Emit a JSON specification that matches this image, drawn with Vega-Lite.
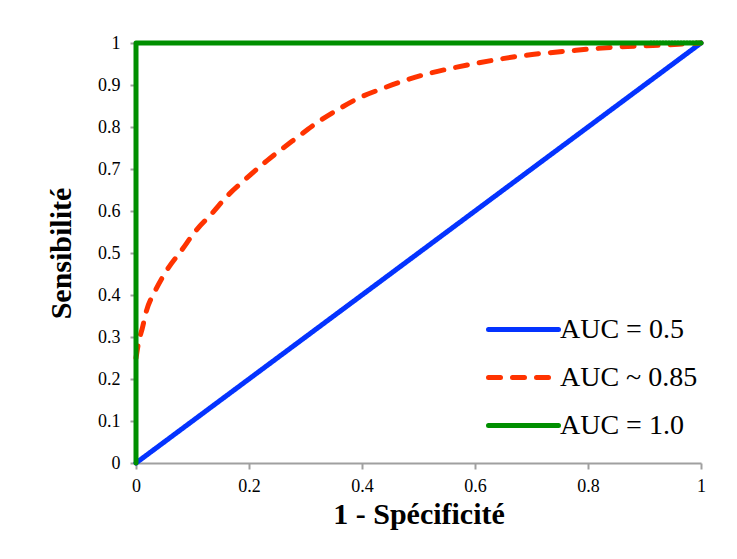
{
  "$schema": "https://vega.github.io/schema/vega-lite/v6.json",
  "width": 565,
  "height": 420,
  "autosize": {"type": "none"},
  "padding": {"left": 136, "top": 43, "right": 36, "bottom": 96},
  "background": "white",
  "config": {
    "view": {"stroke": null},
    "font": "Liberation Serif"
  },
  "data": {
    "values": [
      {"serie": "AUC = 0.5", "fpr": 0, "tpr": 0},
      {"serie": "AUC = 0.5", "fpr": 1, "tpr": 1},
      {"serie": "AUC ~ 0.85", "fpr": 0, "tpr": 0.25},
      {"serie": "AUC ~ 0.85", "fpr": 0.005, "tpr": 0.29},
      {"serie": "AUC ~ 0.85", "fpr": 0.011, "tpr": 0.32},
      {"serie": "AUC ~ 0.85", "fpr": 0.018, "tpr": 0.36},
      {"serie": "AUC ~ 0.85", "fpr": 0.034, "tpr": 0.41},
      {"serie": "AUC ~ 0.85", "fpr": 0.055, "tpr": 0.46},
      {"serie": "AUC ~ 0.85", "fpr": 0.081, "tpr": 0.507},
      {"serie": "AUC ~ 0.85", "fpr": 0.104, "tpr": 0.55},
      {"serie": "AUC ~ 0.85", "fpr": 0.135, "tpr": 0.595},
      {"serie": "AUC ~ 0.85", "fpr": 0.161, "tpr": 0.635},
      {"serie": "AUC ~ 0.85", "fpr": 0.189, "tpr": 0.67},
      {"serie": "AUC ~ 0.85", "fpr": 0.232, "tpr": 0.72},
      {"serie": "AUC ~ 0.85", "fpr": 0.285, "tpr": 0.775},
      {"serie": "AUC ~ 0.85", "fpr": 0.32, "tpr": 0.81},
      {"serie": "AUC ~ 0.85", "fpr": 0.358, "tpr": 0.842},
      {"serie": "AUC ~ 0.85", "fpr": 0.396, "tpr": 0.87},
      {"serie": "AUC ~ 0.85", "fpr": 0.437, "tpr": 0.892},
      {"serie": "AUC ~ 0.85", "fpr": 0.476, "tpr": 0.911},
      {"serie": "AUC ~ 0.85", "fpr": 0.517, "tpr": 0.927},
      {"serie": "AUC ~ 0.85", "fpr": 0.559, "tpr": 0.94},
      {"serie": "AUC ~ 0.85", "fpr": 0.6, "tpr": 0.951},
      {"serie": "AUC ~ 0.85", "fpr": 0.641, "tpr": 0.961},
      {"serie": "AUC ~ 0.85", "fpr": 0.685, "tpr": 0.97},
      {"serie": "AUC ~ 0.85", "fpr": 0.733, "tpr": 0.977},
      {"serie": "AUC ~ 0.85", "fpr": 0.773, "tpr": 0.982},
      {"serie": "AUC ~ 0.85", "fpr": 0.816, "tpr": 0.987},
      {"serie": "AUC ~ 0.85", "fpr": 0.857, "tpr": 0.991},
      {"serie": "AUC ~ 0.85", "fpr": 0.915, "tpr": 0.994},
      {"serie": "AUC ~ 0.85", "fpr": 0.96, "tpr": 0.997},
      {"serie": "AUC ~ 0.85", "fpr": 1, "tpr": 1},
      {"serie": "AUC = 1.0", "fpr": 0, "tpr": 0},
      {"serie": "AUC = 1.0", "fpr": 0, "tpr": 1},
      {"serie": "AUC = 1.0", "fpr": 1, "tpr": 1}
    ]
  },
  "mark": {"type": "line", "strokeWidth": 5, "strokeCap": "round", "interpolate": "monotone", "clip": false},
  "encoding": {
    "x": {
      "field": "fpr", "type": "quantitative",
      "scale": {"domain": [0, 1], "nice": false},
      "axis": {
        "title": "1 - Spécificité",
        "values": [0, 0.2, 0.4, 0.6, 0.8, 1],
        "format": "~g",
        "grid": false,
        "domainColor": "#a0a0a0", "domainWidth": 2,
        "tickColor": "#a0a0a0", "tickWidth": 2, "tickSize": 6,
        "labelFont": "Liberation Serif", "labelFontSize": 18, "labelColor": "#000000",
        "labelPadding": 8, "labelFlush": false,
        "titleFont": "Liberation Serif", "titleFontSize": 30, "titleFontWeight": "bold", "titleColor": "#000000",
        "titlePadding": 4
      }
    },
    "y": {
      "field": "tpr", "type": "quantitative",
      "scale": {"domain": [0, 1], "nice": false},
      "axis": {
        "title": "Sensibilité",
        "values": [0, 0.1, 0.2, 0.3, 0.4, 0.5, 0.6, 0.7, 0.8, 0.9, 1],
        "format": "~g",
        "grid": false,
        "domainColor": "#a0a0a0", "domainWidth": 2,
        "tickColor": "#a0a0a0", "tickWidth": 2, "tickSize": 6,
        "labelFont": "Liberation Serif", "labelFontSize": 18, "labelColor": "#000000",
        "labelPadding": 10, "labelFlush": false,
        "titleFont": "Liberation Serif", "titleFontSize": 30, "titleFontWeight": "bold", "titleColor": "#000000",
        "titlePadding": 21
      }
    },
    "color": {
      "field": "serie", "type": "nominal",
      "scale": {
        "domain": ["AUC = 0.5", "AUC ~ 0.85", "AUC = 1.0"],
        "range": ["#0433ff", "#ff3300", "#008f00"]
      },
      "legend": {
        "title": null,
        "orient": "none",
        "legendX": 365,
        "legendY": 264,
        "padding": 0,
        "symbolType": "M-1.75,0H1.75",
        "symbolSize": 1600,
        "symbolStrokeWidth": 5,
        "rowPadding": 11,
        "labelOffset": 14,
        "labelFont": "Liberation Serif",
        "labelFontSize": 28,
        "labelColor": "#000000",
        "labelLimit": 300,
        "encode": {"symbols": {"update": {"strokeCap": {"value": "round"}}}}
      }
    },
    "strokeDash": {
      "field": "serie", "type": "nominal",
      "scale": {
        "domain": ["AUC = 0.5", "AUC ~ 0.85", "AUC = 1.0"],
        "range": [[1, 0], [12, 12], [1, 0]]
      }
    }
  }
}
